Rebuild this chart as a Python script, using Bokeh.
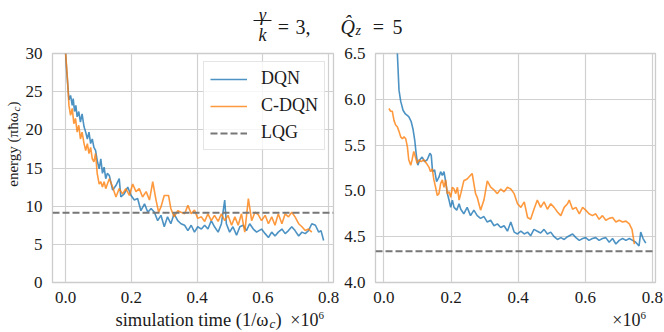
import math
from bokeh.plotting import figure
from bokeh.models import (Legend, LegendItem, Label, FixedTicker, BoxAnnotation,
                          NumeralTickFormatter, Range1d)
from bokeh.layouts import column, row
from bokeh.embed import file_html
from bokeh.resources import INLINE

# ---------------- data (time in units of 10^6 / omega_c) ----------------
dqn_t = [0.000, 0.003, 0.007, 0.010, 0.015, 0.020, 0.023, 0.027, 0.031, 0.035,
         0.040, 0.045, 0.050, 0.056, 0.061, 0.066, 0.071, 0.076, 0.081, 0.086,
         0.091, 0.096, 0.102, 0.107, 0.112, 0.117, 0.122, 0.127, 0.133, 0.143,
         0.153, 0.163, 0.168, 0.178, 0.189, 0.199, 0.209, 0.219, 0.229, 0.240,
         0.250, 0.260, 0.270, 0.280, 0.290, 0.300, 0.310, 0.320, 0.330, 0.341,
         0.351, 0.362, 0.372, 0.382, 0.392, 0.402, 0.413, 0.423, 0.433, 0.443,
         0.453, 0.464, 0.474, 0.484, 0.489, 0.499, 0.509, 0.520, 0.530, 0.540,
         0.550, 0.560, 0.571, 0.581, 0.596, 0.607, 0.617, 0.627, 0.637, 0.647,
         0.658, 0.668, 0.678, 0.688, 0.698, 0.709, 0.719, 0.729, 0.739, 0.749,
         0.760, 0.770, 0.777, 0.785]
dqn_e = [30.0, 27.8, 25.6, 23.9, 24.5, 23.2, 24.1, 22.4, 23.2, 21.7,
         22.4, 21.0, 22.1, 20.4, 19.7, 18.8, 19.7, 18.2, 18.8, 17.7,
         17.3, 16.0, 14.9, 16.2, 14.3, 15.1, 13.6, 14.3, 14.0, 12.1,
         12.7, 13.6, 11.2, 11.6, 12.5, 11.4, 10.8, 11.0, 9.4, 10.3,
         9.2, 9.7, 9.2, 8.1, 8.8, 7.3, 8.6, 7.7, 9.0, 8.1,
         7.7, 7.5, 6.8, 7.5, 6.6, 7.3, 7.0, 7.5, 7.0, 8.1,
         7.3, 6.6, 7.7, 10.8, 7.7, 6.6, 7.3, 6.2, 7.3, 7.5,
         6.8, 7.7, 7.0, 6.6, 7.0, 6.4, 5.9, 6.6, 6.1, 6.6,
         7.0, 6.4, 6.8, 7.3, 6.8, 6.1, 6.6, 6.4, 6.8, 7.7,
         7.5, 6.6, 6.8, 5.5]

cdqn_t = [0.000, 0.005, 0.010, 0.015, 0.020, 0.025, 0.030, 0.035, 0.040, 0.045,
          0.050, 0.056, 0.061, 0.066, 0.071, 0.076, 0.081, 0.086, 0.091, 0.096,
          0.102, 0.107, 0.112, 0.117, 0.122, 0.127, 0.133, 0.143, 0.153, 0.163,
          0.173, 0.183, 0.194, 0.204, 0.214, 0.224, 0.234, 0.245, 0.255, 0.265,
          0.275, 0.283, 0.290, 0.300, 0.313, 0.320, 0.330, 0.341, 0.351, 0.362,
          0.372, 0.382, 0.392, 0.402, 0.413, 0.423, 0.433, 0.443, 0.453, 0.464,
          0.474, 0.484, 0.494, 0.505, 0.515, 0.525, 0.535, 0.545, 0.556, 0.566,
          0.576, 0.586, 0.596, 0.607, 0.617, 0.627, 0.637, 0.647, 0.658, 0.668,
          0.678, 0.688, 0.698, 0.709, 0.719, 0.729, 0.739, 0.749]
cdqn_e = [30.0, 27.0, 23.2, 21.9, 22.8, 20.8, 21.5, 19.7, 20.6, 18.8,
          19.7, 18.2, 17.3, 18.2, 16.9, 17.7, 16.2, 15.8, 16.9, 14.3,
          12.9, 13.2, 12.5, 13.2, 12.3, 12.9, 13.6, 12.5, 11.2, 12.3,
          11.6, 12.3, 11.4, 12.9, 11.9, 12.3, 11.2, 11.9, 10.8, 13.2,
          10.8, 9.2, 9.9, 11.4, 11.4, 9.7, 8.6, 9.4, 9.2, 9.0,
          10.1, 9.0, 9.5, 8.4, 8.6, 8.0, 9.0, 8.1, 8.8, 8.0,
          9.0, 8.1, 8.8, 7.5, 8.6, 7.5, 9.0, 6.6, 11.0, 8.1,
          9.2, 8.9, 8.1, 8.8, 7.7, 8.6, 7.5, 9.0, 7.7, 9.0,
          8.6, 9.2, 8.6, 7.7, 7.3, 6.8, 7.0, 6.6]

lqg_left = 9.15

dqn2_t = [0.036, 0.040, 0.045, 0.050, 0.057, 0.064, 0.074, 0.081, 0.087, 0.092,
          0.096, 0.101, 0.107, 0.114, 0.121, 0.129, 0.137, 0.141, 0.145, 0.151,
          0.157, 0.164, 0.169, 0.174, 0.179, 0.184, 0.189, 0.194, 0.199, 0.204,
          0.209, 0.217, 0.224, 0.229, 0.238, 0.248, 0.258, 0.268, 0.278, 0.288,
          0.298, 0.308, 0.318, 0.328, 0.338, 0.348, 0.358, 0.368, 0.378, 0.388,
          0.398, 0.408, 0.418, 0.428, 0.437, 0.447, 0.457, 0.467, 0.477, 0.487,
          0.497, 0.507, 0.517, 0.527, 0.537, 0.547, 0.562, 0.572, 0.582, 0.592,
          0.601, 0.611, 0.621, 0.631, 0.641, 0.651, 0.661, 0.671, 0.681, 0.691,
          0.701, 0.711, 0.721, 0.731, 0.741, 0.750, 0.760, 0.765, 0.772, 0.780]
dqn2_e = [6.90, 6.51, 6.10, 5.98, 5.88, 5.84, 5.81, 5.76, 5.67, 5.55,
          5.41, 5.28, 5.34, 5.37, 5.32, 5.34, 5.41, 5.39, 5.21, 5.23,
          5.10, 5.15, 5.21, 5.17, 5.21, 5.10, 4.97, 4.90, 4.82, 4.90,
          4.82, 4.79, 4.86, 4.80, 4.75, 4.82, 4.73, 4.79, 4.73, 4.70,
          4.72, 4.66, 4.68, 4.62, 4.64, 4.60, 4.62, 4.56, 4.66, 4.55,
          4.53, 4.56, 4.53, 4.55, 4.51, 4.58, 4.56, 4.54, 4.58, 4.53,
          4.55, 4.50, 4.47, 4.49, 4.47, 4.50, 4.53, 4.49, 4.46, 4.48,
          4.49, 4.46, 4.48, 4.49, 4.46, 4.48, 4.49, 4.44, 4.48, 4.42,
          4.46, 4.48, 4.46, 4.48, 4.46, 4.44, 4.40, 4.55, 4.48, 4.43]

cdqn2_t = [0.015, 0.020, 0.025, 0.030, 0.035, 0.040, 0.045, 0.050, 0.055, 0.060,
           0.065, 0.070, 0.074, 0.080, 0.084, 0.089, 0.094, 0.099, 0.104, 0.111,
           0.119, 0.127, 0.134, 0.139, 0.144, 0.149, 0.154, 0.159, 0.164, 0.169,
           0.174, 0.179, 0.184, 0.189, 0.194, 0.199, 0.204, 0.209, 0.214, 0.219,
           0.224, 0.229, 0.238, 0.248, 0.258, 0.263, 0.268, 0.273, 0.278, 0.283,
           0.288, 0.298, 0.308, 0.318, 0.328, 0.338, 0.348, 0.358, 0.368, 0.378,
           0.388, 0.398, 0.408, 0.418, 0.428, 0.437, 0.447, 0.457, 0.467, 0.477,
           0.487, 0.497, 0.507, 0.517, 0.527, 0.537, 0.547, 0.552, 0.562, 0.572,
           0.582, 0.592, 0.601, 0.611, 0.621, 0.631, 0.641, 0.651, 0.661, 0.671,
           0.681, 0.691, 0.701, 0.711, 0.721, 0.731, 0.739, 0.743, 0.746]
cdqn2_e = [5.90, 5.87, 5.87, 5.77, 5.72, 5.70, 5.65, 5.59, 5.57, 5.59,
           5.57, 5.48, 5.34, 5.28, 5.34, 5.43, 5.37, 5.30, 5.34, 5.32,
           5.34, 5.30, 5.26, 5.21, 5.24, 5.12, 5.04, 4.95, 4.97, 5.08,
           5.12, 5.04, 5.12, 4.97, 4.99, 4.93, 5.04, 5.02, 4.97, 5.04,
           4.90, 4.97, 5.11, 5.13, 5.17, 5.19, 5.08, 4.97, 4.93, 4.86,
           4.79, 4.90, 5.11, 5.04, 5.01, 4.97, 5.02, 4.99, 5.04, 5.02,
           4.97, 4.86, 4.82, 4.88, 4.71, 4.69, 4.80, 4.90, 4.82, 4.88,
           4.80, 4.86, 4.82, 4.77, 4.73, 4.82, 4.86, 4.90, 4.80, 4.82,
           4.75, 4.82, 4.79, 4.75, 4.73, 4.75, 4.69, 4.73, 4.68, 4.70,
           4.71, 4.66, 4.68, 4.66, 4.67, 4.64, 4.58, 4.49, 4.42]

lqg_right = 4.34

x_ticks = [0.0, 0.2, 0.4, 0.6, 0.8]
y_ticks_left = [0, 5, 10, 15, 20, 25, 30]
y_ticks_right = [4.0, 4.5, 5.0, 5.5, 6.0, 6.5]

series_names = ["DQN", "C-DQN", "LQG"]

# ---------------- styling ----------------
FONT = "Liberation Serif"
TXT = "#1a1a1a"
BLUE = "#1f77b4"
ORANGE = "#ff7f0e"
GRAY = "#777777"
GRID = "#d0d0d0"
FRAME_H = 229
TOP, BOTTOM = 8, 24
FIG_H = TOP + FRAME_H + BOTTOM
TITLE_H = 45
XLAB_H = 24


def make_fig(frame_w, left, right, xr, yr, yticks, yfmt):
    p = figure(frame_width=frame_w, frame_height=FRAME_H,
               x_range=Range1d(*xr), y_range=Range1d(*yr),
               output_backend="svg", toolbar_location=None,
               min_border_left=left, min_border_right=right,
               min_border_top=TOP, min_border_bottom=BOTTOM)
    p.background_fill_color = "white"
    p.border_fill_color = "white"
    p.outline_line_color = "#cccccc"
    p.outline_line_width = 1.3
    for g in (p.xgrid, p.ygrid):
        g.grid_line_color = GRID
        g.grid_line_width = 1.2
    p.xaxis.ticker = FixedTicker(ticks=x_ticks)
    p.yaxis.ticker = FixedTicker(ticks=yticks)
    p.xaxis.formatter = NumeralTickFormatter(format="0.0")
    p.yaxis.formatter = NumeralTickFormatter(format=yfmt)
    for ax in (p.xaxis[0], p.yaxis[0]):
        ax.axis_line_color = None
        ax.major_tick_line_color = None
        ax.minor_tick_line_color = None
        ax.major_label_text_font = FONT
        ax.major_label_text_font_size = "17px"
        ax.major_label_text_color = TXT
    p.xaxis[0].major_label_standoff = 3
    p.yaxis[0].major_label_standoff = 4
    return p


def text_fig(w, h):
    f = figure(width=w, height=h, x_range=Range1d(0, w), y_range=Range1d(0, h),
               output_backend="svg", toolbar_location=None, min_border=0,
               x_axis_location=None, y_axis_location=None)
    f.grid.visible = False
    f.outline_line_color = None
    f.background_fill_color = "white"
    f.border_fill_color = "white"
    return f


def lab(f, text, x, y, size="18px", align="left", angle=0.0, style="normal"):
    f.add_layout(Label(x=x, y=y, x_units="screen", y_units="screen", text=text,
                       text_font=FONT, text_font_size=size, text_color=TXT,
                       text_align=align, text_baseline="alphabetic",
                       angle=angle, text_font_style=style))


# ---------------- left panel ----------------
YLAB_W = 22
L1, R1, W1_FRAME = 22, 8, 281
p1 = make_fig(W1_FRAME, L1, R1, (-0.04, 0.815), (0, 30), y_ticks_left, "0")
xr1 = (p1.x_range.start, p1.x_range.end)
r_dqn = p1.line(dqn_t, dqn_e, line_color=BLUE, line_alpha=0.8, line_width=1.6)
r_cdqn = p1.line(cdqn_t, cdqn_e, line_color=ORANGE, line_alpha=0.8, line_width=1.6)
r_lqg = p1.line(list(xr1), [lqg_left, lqg_left], line_color=GRAY,
                line_dash="7 3", line_width=2)

legend = Legend(items=[LegendItem(label=series_names[0], renderers=[r_dqn]),
                       LegendItem(label=series_names[1], renderers=[r_cdqn]),
                       LegendItem(label=series_names[2], renderers=[r_lqg])],
                location="top_right", margin=8, padding=6, spacing=6,
                glyph_width=37, glyph_height=20, label_height=20,
                label_standoff=14, label_text_font=FONT,
                label_text_font_size="18px", label_text_color=TXT,
                border_line_color="#cccccc", border_line_width=1,
                background_fill_color="white", background_fill_alpha=0.8)
p1.add_layout(legend)

# ---------------- right panel ----------------
L2, R2, W2_FRAME = 34, 9, 280
p2 = make_fig(W2_FRAME, L2, R2, (-0.025, 0.809), (4.0, 6.5), y_ticks_right, "0.0")
xr2 = (p2.x_range.start, p2.x_range.end)
p2.line(dqn2_t, dqn2_e, line_color=BLUE, line_alpha=0.8, line_width=1.6)
p2.line(cdqn2_t, cdqn2_e, line_color=ORANGE, line_alpha=0.8, line_width=1.6)
p2.line(list(xr2), [lqg_right, lqg_right], line_color=GRAY, line_dash="7 3", line_width=2)

TOTAL_W = YLAB_W + (L1 + W1_FRAME + R1) + (L2 + W2_FRAME + R2)

# ---------------- y label strip: energy (πħω_c) ----------------
ylab = text_fig(YLAB_W, FIG_H)
half_pi = math.pi / 2
lab(ylab, "energy (πħω", 12, 170, size="15px", align="right", angle=half_pi)
lab(ylab, "c", 15, 171, size="11px", angle=half_pi, style="italic")
lab(ylab, ")", 12, 176, size="15px", angle=half_pi)

# ---------------- x label strip: simulation time (1/ω_c), ×10^6 ----------------
xlab = text_fig(TOTAL_W, XLAB_H)
lab(xlab, "simulation time (1/ω", 268, 11, size="18.5px", align="right")
lab(xlab, "c", 269, 7, size="13px", style="italic")
lab(xlab, ")", 275, 11, size="18.5px")
frame1_right = YLAB_W + L1 + W1_FRAME
frame2_right = YLAB_W + L1 + W1_FRAME + R1 + L2 + W2_FRAME
for fr in (frame1_right, frame2_right):
    lab(xlab, "×10", fr - 7, 11, size="18px", align="right")
    lab(xlab, "6", fr - 7, 15, size="11px")

# ---------------- title strip: γ/k = 3,  Q̂_z = 5 ----------------
ttl = text_fig(TOTAL_W, TITLE_H)
lab(ttl, "γ", 262, 31, size="18px", align="center", style="italic")
ttl.add_layout(BoxAnnotation(left=253, right=271, bottom=24.5, top=25.5,
                             left_units="screen", right_units="screen",
                             bottom_units="screen", top_units="screen",
                             fill_color=TXT, fill_alpha=1, line_color=None))
lab(ttl, "k", 262, 11, size="18px", align="center", style="italic")
lab(ttl, "=", 283, 19, size="20px", align="center")
lab(ttl, "3,", 295, 19, size="20px")
lab(ttl, "Q\u0302", 340, 19, size="20px", style="italic")
lab(ttl, "z", 355, 15, size="14px", style="italic")
lab(ttl, "=", 378, 19, size="20px", align="center")
lab(ttl, "5", 392, 19, size="20px")

layout = column(ttl, row(ylab, p1, p2), xlab)

open("out.html", "w").write(file_html(layout, INLINE))
